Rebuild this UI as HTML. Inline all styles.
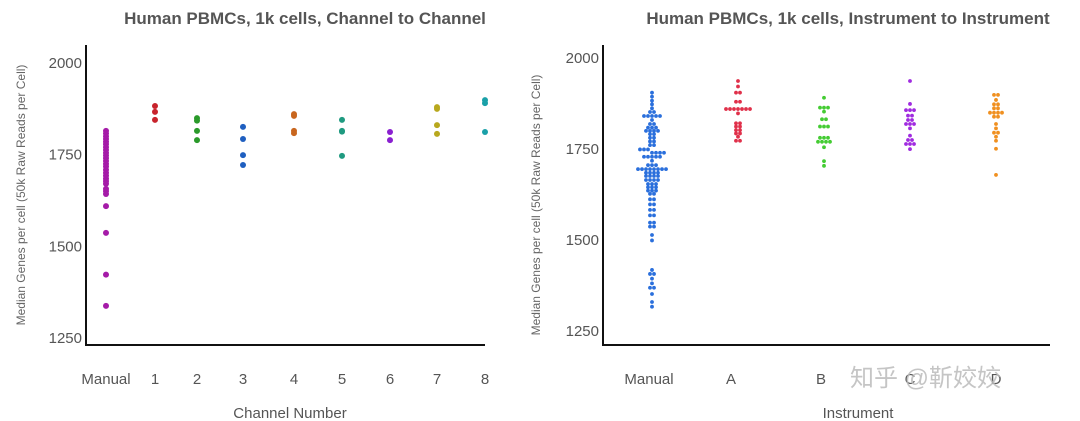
<!DOCTYPE html>
<html><head><meta charset="utf-8">
<style>
html,body{margin:0;padding:0;background:#fff;}
svg{display:block;font-family:"Liberation Sans","Noto Sans CJK SC",sans-serif;}
</style></head>
<body>
<svg id="c" width="1080" height="421" xmlns="http://www.w3.org/2000/svg"></svg>
<script>
// Left chart data
const leftCategories = ["Manual","1","2","3","4","5","6","7","8"];
const leftManual = [1812,1805,1797,1790,1783,1776,1768,1760,1752,1745,1738,1730,1722,1715,1706,1698,1690,1682,1675,1668,1654,1648,1640,1607,1534,1420,1335];
const leftCh1 = [1880,1864,1842];
const leftCh2 = [1847,1840,1812,1787];
const leftCh3 = [1823,1790,1746,1719];
const leftCh4 = [1858,1853,1812,1806];
const leftCh5 = [1842,1812,1810,1744];
const leftCh6 = [1809,1787];
const leftCh7 = [1877,1872,1828,1804];
const leftCh8 = [1896,1888,1809];
const yTicks = [2000,1750,1500,1250];
// Right chart data
const rightCategories = ["Manual","A","B","C","D"];
const rightManual = [1902,1891,1880,1870,1859,1849,1849,1838,1838,1838,1838,1838,1827,1816,1816,1806,1806,1806,1797,1797,1797,1797,1788,1788,1778,1778,1768,1768,1758,1758,1746,1746,1746,1737,1737,1737,1737,1726,1726,1726,1726,1726,1715,1703,1703,1703,1692,1692,1692,1692,1692,1692,1692,1692,1682,1682,1682,1682,1673,1673,1673,1673,1662,1662,1662,1662,1651,1651,1651,1642,1642,1642,1633,1633,1633,1624,1624,1609,1609,1595,1595,1580,1580,1565,1565,1545,1545,1534,1534,1511,1496,1415,1404,1404,1391,1378,1366,1366,1349,1327,1314];
const rightA = [1934,1919,1902,1902,1877,1877,1857,1857,1857,1857,1857,1857,1857,1845,1818,1818,1809,1809,1799,1799,1790,1790,1781,1770,1770];
const rightB = [1888,1861,1861,1861,1850,1829,1829,1809,1809,1809,1778,1778,1778,1767,1767,1767,1767,1752,1714,1701];
const rightC = [1934,1871,1854,1854,1854,1839,1839,1827,1827,1816,1816,1816,1804,1784,1772,1772,1761,1761,1761,1747];
const rightD = [1896,1896,1882,1870,1870,1859,1859,1847,1847,1847,1847,1836,1836,1816,1804,1792,1792,1781,1770,1748,1676];

const NS="http://www.w3.org/2000/svg";
const svg=document.getElementById('c');
function mk(t,a,p){const e=document.createElementNS(NS,t);for(const k in a)e.setAttribute(k,a[k]);(p||svg).appendChild(e);return e;}

function drawChart(o){
  const g=mk('g',{});
  
  
  const yScale=v=>o.y2000+(2000-v)*(o.y1250-o.y2000)/750;
  const t=mk('text',{x:o.titleX,y:24,'text-anchor':'middle','font-size':17,'font-weight':'bold',fill:'#555'},g);t.textContent=o.title;
  
  
  const ax=mk('line',{x1:o.axX,y1:45,x2:o.axX,y2:345,stroke:'#111','stroke-width':2},g);
  
  
  const bx=mk('line',{x1:o.axX-1,y1:345,x2:o.axEnd,y2:345,stroke:'#111','stroke-width':2},g);
  
  
  yTicks.forEach(v=>{
    const tl=mk('text',{x:o.axX-4,y:yScale(v)+6,'text-anchor':'end','font-size':15,fill:'#555'},g);tl.textContent=v;
    
    
  });
  const yt=mk('text',{transform:`translate(${o.ytX},${o.ytY}) rotate(-90)`,'text-anchor':'middle','font-size':12,fill:'#666'},g);
  yt.textContent='Median Genes per cell (50k Raw Reads per Cell)';
  
  
  const xt=mk('text',{x:o.xtX,y:418,'text-anchor':'middle','font-size':15,fill:'#555'},g);xt.textContent=o.xTitle;
  
  
  o.cats.forEach((c,i)=>{
    const x=o.catX[i];
    const lb=mk('text',{x:x+(o.labOff?o.labOff[i]:0),y:384,'text-anchor':'middle','font-size':15,fill:'#555'},g);lb.textContent=c;
    
    
    const vals=o.series[i];
    // swarm: group by pixel row
    const rows={};
    vals.forEach(v=>{const yy=yScale(v);const k=Math.round(yy/o.bin);(rows[k]=rows[k]||[]).push(yy);});
    Object.values(rows).forEach(r=>{
      const n=r.length;
      r.forEach((yy,j)=>{
        const dx=(j-(n-1)/2)*o.sp;
        const d=mk('circle',{cx:x+dx,cy:yy,r:o.r,fill:o.colors[i]},g);
        
        
      });
    });
  });
}
drawChart({name:'channel-chart',title:'Human PBMCs, 1k cells, Channel to Channel',titleX:305,axX:86,axEnd:485,y2000:62,y1250:337,
  ytX:25,ytY:195,xtX:290,xTitle:'Channel Number',cats:leftCategories,
  catX:[106,155,197,243,294,342,390,437,485],labOff:[0,0,0,0,0,0,0,0,0],
  series:[leftManual,leftCh1,leftCh2,leftCh3,leftCh4,leftCh5,leftCh6,leftCh7,leftCh8],
  colors:['#a51ba8','#c8232c','#2a9a2a','#1f5fc0','#c8661e','#1f9a80','#8a1fd0','#b8a81e','#1aa0a8'],
  bin:1,sp:5,r:3});
drawChart({name:'instrument-chart',title:'Human PBMCs, 1k cells, Instrument to Instrument',titleX:848,axX:603,axEnd:1050,y2000:57,y1250:330,
  ytX:540,ytY:205,xtX:858,xTitle:'Instrument',cats:rightCategories,
  catX:[652,738,824,910,996],labOff:[-3,-7,-3,0,0],
  series:[rightManual,rightA,rightB,rightC,rightD],
  colors:['#2a6fdc','#e0304a','#44cc33','#a02be0','#f09020'],
  bin:3.6,sp:4,r:1.9});
const wm=mk('text',{x:850,y:386,'font-size':24,fill:'#bbb','fill-opacity':0.85});
wm.textContent='知乎 @靳姣姣';


</script>
</body></html>
